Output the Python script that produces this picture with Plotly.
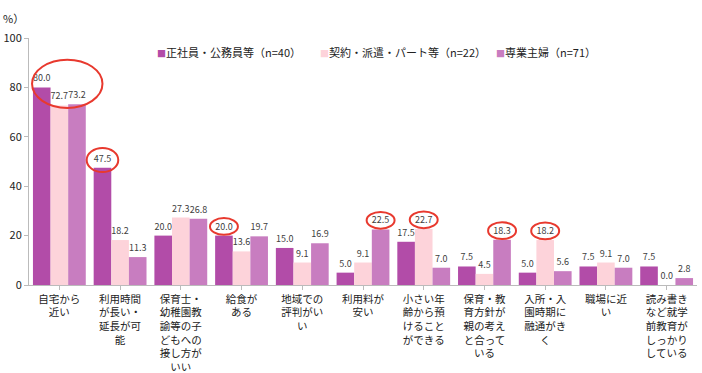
import plotly.graph_objects as go

categories = [
    "自宅から<br>近い",
    "利用時間<br>が長い・<br>延長が可<br>能",
    "保育士・<br>幼稚園教<br>諭等の子<br>どもへの<br>接し方が<br>いい",
    "給食が<br>ある",
    "地域での<br>評判がい<br>い",
    "利用料が<br>安い",
    "小さい年<br>齢から預<br>けること<br>ができる",
    "保育・教<br>育方針が<br>親の考え<br>と合って<br>いる",
    "入所・入<br>園時期に<br>融通がき<br>く",
    "職場に近<br>い",
    "読み書き<br>など就学<br>前教育が<br>しっかり<br>している",
]
series_names = ["正社員・公務員等（n=40）", "契約・派遣・パート等（n=22）", "専業主婦（n=71）"]
seishain = [80.0, 47.5, 20.0, 20.0, 15.0, 5.0, 17.5, 7.5, 5.0, 7.5, 7.5]
keiyaku = [72.7, 18.2, 27.3, 13.6, 9.1, 9.1, 22.7, 4.5, 18.2, 9.1, 0.0]
sengyo = [73.2, 11.3, 26.8, 19.7, 16.9, 22.5, 7.0, 18.3, 5.6, 7.0, 2.8]
y_ticks = [0, 20, 40, 60, 80, 100]

# highlighted labels: (category index, series index)
highlights = [(1, 0), (3, 0), (5, 2), (6, 1), (7, 2), (8, 1)]

colors = ["#B24CA8", "#FDD3DA", "#C87DC0"]
legend_x = [0.1886, 0.4326, 0.696]
FONT = "Noto Sans CJK JP, Noto Sans, sans-serif"
BARGAP = 0.13

fig = go.Figure()
all_series = [seishain, keiyaku, sengyo]
for name, vals, c in zip(series_names, all_series, colors):
    fig.add_trace(go.Bar(
        x=list(range(len(categories))), y=vals, name=name,
        marker=dict(color=c, line=dict(width=0)),
        text=[f"{v:.1f}" for v in vals], textposition="outside",
        constraintext="none",
        textfont=dict(size=9, color="#404040", family=FONT),
        cliponaxis=False, showlegend=False,
    ))

bw = (1 - BARGAP) / 3
shapes = []
for ci, si in highlights:
    xc = ci + (si - 1) * bw
    yv = all_series[si][ci]
    big = yv > 40
    hw = 0.26 if big else 0.23
    hh = 4.9 if big else 3.4
    yc = yv + (3.1 if big else 3.7)
    shapes.append(dict(type="circle", xref="x", yref="y",
                       x0=xc - hw, x1=xc + hw, y0=yc - hh, y1=yc + hh,
                       line=dict(color="#E8392E", width=2)))
# big ellipse around first group
g0 = max(s[0] for s in all_series)
shapes.append(dict(type="circle", xref="x", yref="y",
                   x0=-0.45, x1=0.71, y0=g0 - 8.3, y1=g0 + 11.2,
                   line=dict(color="#E8392E", width=2)))

annotations = [dict(text="%）", xref="paper", yref="paper", x=0, y=1,
                    xanchor="left", yanchor="bottom", xshift=-28, yshift=10,
                    showarrow=False, font=dict(size=11, color="#222"))]
for name, c, lx in zip(series_names, colors, legend_x):
    annotations.append(dict(
        text=f"<span style='color:{c};font-size:9px'>■</span>{name}",
        xref="paper", yref="paper", x=lx, y=0.943, xanchor="left", yanchor="middle",
        showarrow=False, font=dict(size=11, color="#222", family=FONT)))

fig.update_layout(
    width=702, height=373,
    margin=dict(l=29, r=5, t=38, b=88, autoexpand=False),
    paper_bgcolor="white", plot_bgcolor="white",
    barmode="group", bargap=BARGAP, bargroupgap=0,
    font=dict(family=FONT, size=11, color="#222"),
    showlegend=False,
    shapes=shapes,
    annotations=annotations,
)
fig.update_xaxes(
    tickmode="array", tickvals=list(range(len(categories))), ticktext=categories,
    range=[-0.5, len(categories) - 0.5], automargin=False,
    showline=True, linecolor="#BBBBBB", linewidth=1,
    ticks="outside", tickson="boundaries", ticklen=4, tickcolor="#BBBBBB",
    tickfont=dict(size=10.5, color="#222"), tickangle=0,
    showgrid=False, zeroline=False,
)
fig.update_yaxes(
    range=[0, 100], tickvals=y_ticks, automargin=False,
    showline=True, linecolor="#BBBBBB", linewidth=1,
    ticks="outside", ticklen=4, tickcolor="#BBBBBB",
    tickfont=dict(size=11, color="#222"),
    showgrid=False, zeroline=False,
)

fig.write_html("out.html")
